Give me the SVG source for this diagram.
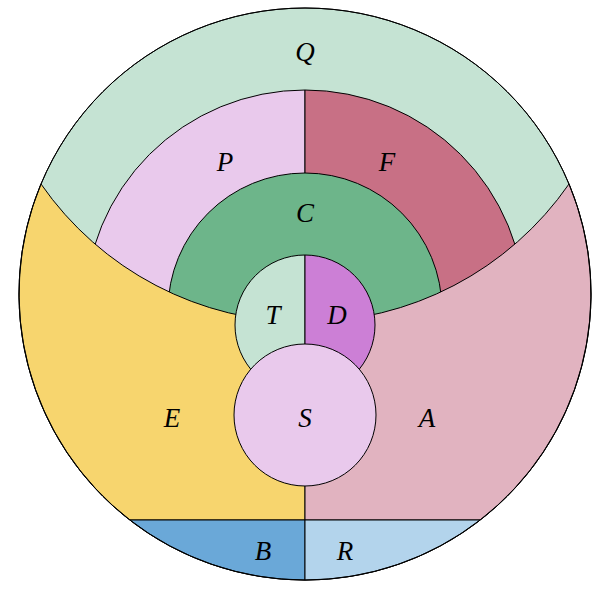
<svg xmlns="http://www.w3.org/2000/svg" width="600" height="590" viewBox="0 0 600 590">
<style>
path,circle{stroke:#000;stroke-width:1}
text{font-family:"Liberation Serif",serif;font-style:italic;font-size:27px;text-anchor:middle}
</style>
<rect width="600" height="590" fill="#fff"/>
<g id="Q"><circle cx="305" cy="294" r="286" fill="#c5e3d3"/><text x="305" y="61">Q</text></g>
<g id="P"><path d="M305,310 L305,90 A220,220 0 0 0 85,310 Z" fill="#e9c9ec"/><text x="225" y="171">P</text></g>
<g id="F"><path d="M305,310 L305,90 A220,220 0 0 1 525,310 Z" fill="#c87085"/><text x="387" y="171">F</text></g>
<g id="C"><circle cx="305" cy="310" r="137" fill="#6db58a"/><text x="305" y="222">C</text></g>
<g id="E"><path d="M41,184 A321,321 0 0 0 305,322 L305,520 L130,520 A286,286 0 0 1 41,184 Z" fill="#f7d56e"/><text x="172" y="427">E</text></g>
<g id="A"><path d="M569,184 A321,321 0 0 1 305,322 L305,520 L480,520 A286,286 0 0 0 569,184 Z" fill="#e1b3c0"/><text x="427" y="427">A</text></g>
<g id="B"><path d="M305,520 L130,520 A286,286 0 0 0 305,580 Z" fill="#6aa8d8"/><text x="263" y="560">B</text></g>
<g id="R"><path d="M305,520 L480,520 A286,286 0 0 1 305,580 Z" fill="#b3d4ec"/><text x="345" y="560">R</text></g>
<g id="T"><path d="M305,255 A70,70 0 0 0 305,395 Z" fill="#c5e3d3"/><text x="273" y="324">T</text></g>
<g id="D"><path d="M305,255 A70,70 0 0 1 305,395 Z" fill="#cc7fd6"/><text x="337" y="324">D</text></g>
<g id="S"><circle cx="305" cy="415" r="71" fill="#e9c9ec"/><text x="305" y="427">S</text></g>
<g id="connectors"><circle cx="305" cy="294" r="286" fill="none"/></g>
</svg>
